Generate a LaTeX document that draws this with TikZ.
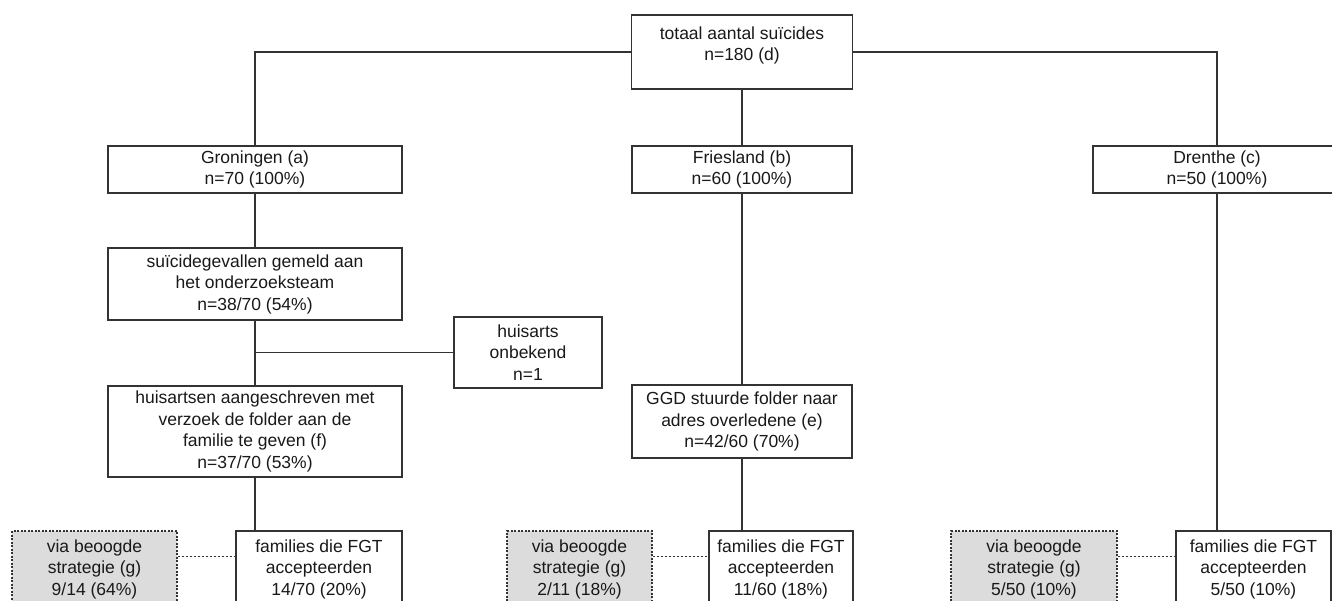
\documentclass[tikz,border=0pt]{standalone}
\usepackage{fontspec}
\setmainfont{Liberation Sans}
\usetikzlibrary{calc}

\definecolor{linegray}{HTML}{333333}
\definecolor{boxgray}{HTML}{DCDCDC}

\begin{document}
\begin{tikzpicture}[x=1pt,y=-1pt,
 box/.style={draw=linegray,line width=1.1pt,align=center,inner sep=2pt,
  font=\fontsize{17.5}{21.5}\selectfont,text=black!90},
 greybox/.style={box,fill=boxgray,dash pattern=on 2pt off 1.5pt},
 link/.style={draw=linegray,line width=1.1pt},
 dashlink/.style={link,dash pattern=on 2.5pt off 1.5pt}]
\clip (0,0) rectangle (1332,601);
\fill[white] (0,0) rectangle (1332,601);
% top
\node[box,minimum width=221pt,minimum height=74pt,text depth=17pt] (tot) at (742,52)
 {totaal aantal suïcides\\n=180 (d)};
% provinces
\node[box,minimum width=294pt,minimum height=47pt] (gro) at (255,169.5) {Groningen (a)\\n=70 (100\%)};
\node[box,minimum width=220pt,minimum height=47pt] (fri) at (742,169.5) {Friesland (b)\\n=60 (100\%)};
\node[box,minimum width=248pt,minimum height=47pt] (dre) at (1217,169.5) {Drenthe (c)\\n=50 (100\%)};
% Groningen
\node[box,minimum width=294pt,minimum height=72pt] (meld) at (255,284)
 {suïcidegevallen gemeld aan\\het onderzoeksteam\\n=38/70 (54\%)};
\node[box,minimum width=148pt,minimum height=71pt] (onb) at (528,352.5) {huisarts\\onbekend\\n=1};
\node[box,minimum width=294pt,minimum height=91pt] (ha) at (255,431.5)
 {huisartsen aangeschreven met\\verzoek de folder aan de\\familie te geven (f)\\n=37/70 (53\%)};
% Friesland
\node[box,minimum width=220pt,minimum height=73pt] (ggd) at (742,421.5)
 {GGD stuurde folder naar\\adres overledene (e)\\n=42/60 (70\%)};
% bottom row
\node[greybox,minimum width=165pt,minimum height=76pt] (via1) at (94.5,569) {via beoogde\\strategie (g)\\9/14 (64\%)};
\node[box,minimum width=166pt,minimum height=76pt] (fam1) at (319,569) {families die FGT\\accepteerden\\14/70 (20\%)};
\node[greybox,minimum width=145pt,minimum height=76pt] (via2) at (579.5,569) {via beoogde\\strategie (g)\\2/11 (18\%)};
\node[box,minimum width=144pt,minimum height=76pt] (fam2) at (781,569) {families die FGT\\accepteerden\\11/60 (18\%)};
\node[greybox,minimum width=166pt,minimum height=76pt] (via3) at (1034,569) {via beoogde\\strategie (g)\\5/50 (10\%)};
\node[box,minimum width=155pt,minimum height=76pt] (fam3) at (1253.5,569) {families die FGT\\accepteerden\\5/50 (10\%)};
% connectors
\draw[link] (tot.west) -| (gro.north);
\draw[link] (tot.east) -| (dre.north);
\draw[link] (tot.south) -- (fri.north);
\draw[link] (gro.south) -- (meld.north);
\draw[link] (meld.south) -- (ha.north);
\draw[link] (onb.west) -- (onb.west -| meld.south);
\draw[link] (ha.south) -- (ha.south |- fam1.north);
\draw[link] (fri.south) -- (ggd.north);
\draw[link] (ggd.south) -- (ggd.south |- fam2.north);
\draw[link] (dre.south) -- (dre.south |- fam3.north);
\draw[dashlink] ([yshift=-26pt]via1.north east) -- ([yshift=-26pt]fam1.north west);
\draw[dashlink] ([yshift=-26pt]via2.north east) -- ([yshift=-26pt]fam2.north west);
\draw[dashlink] ([yshift=-26pt]via3.north east) -- ([yshift=-26pt]fam3.north west);
\end{tikzpicture}
\end{document}
